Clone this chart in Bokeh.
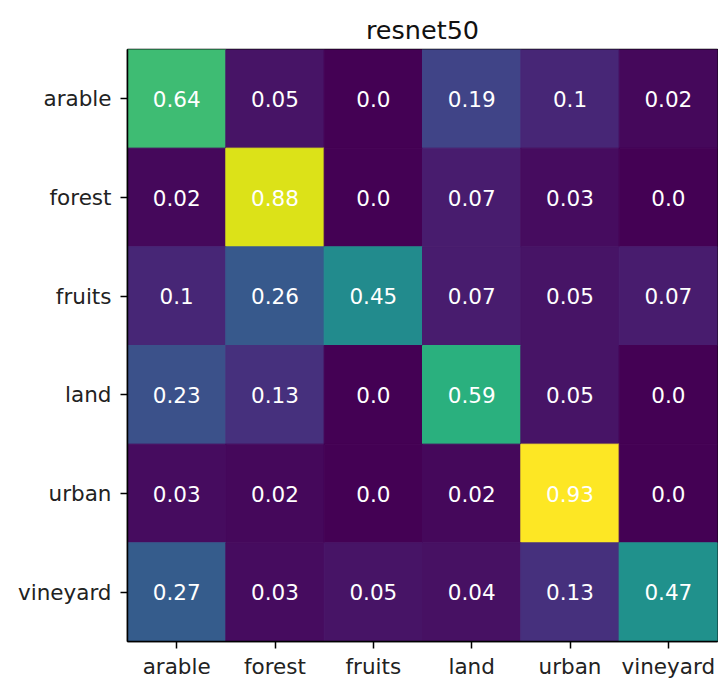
from bokeh.plotting import figure
from bokeh.models import ColumnDataSource, LinearColorMapper, FactorRange
from bokeh.palettes import Viridis256
from bokeh.transform import transform
from bokeh.core.properties import value
from bokeh.embed import file_html
from bokeh.resources import INLINE

# Class names (rows = true label, columns = predicted label)
classes = ["arable", "forest", "fruits", "land", "urban", "vineyard"]

# Normalised confusion-matrix rows
row_arable = [0.64, 0.05, 0.0, 0.19, 0.1, 0.02]
row_forest = [0.02, 0.88, 0.0, 0.07, 0.03, 0.0]
row_fruits = [0.1, 0.26, 0.45, 0.07, 0.05, 0.07]
row_land = [0.23, 0.13, 0.0, 0.59, 0.05, 0.0]
row_urban = [0.03, 0.02, 0.0, 0.02, 0.93, 0.0]
row_vineyard = [0.27, 0.03, 0.05, 0.04, 0.13, 0.47]

rows = [row_arable, row_forest, row_fruits, row_land, row_urban, row_vineyard]

xs, ys, vals, labels = [], [], [], []
for true_cls, row in zip(classes, rows):
    for pred_cls, v in zip(classes, row):
        xs.append(pred_cls)
        ys.append(true_cls)
        vals.append(v)
        labels.append(str(v))

src = ColumnDataSource(dict(x=xs, y=ys, v=vals, label=labels))

all_vals = [v for r in rows for v in r]
mapper = LinearColorMapper(palette=Viridis256, low=min(all_vals), high=max(all_vals))

FONT = "DejaVu Sans"

p = figure(
    width=718, height=681,
    x_range=FactorRange(*classes),
    y_range=FactorRange(*reversed(classes)),
    output_backend="svg", toolbar_location=None,
    min_border_left=127, min_border_right=1,
    min_border_top=49, min_border_bottom=36,
)

# cells, stroked in their own colour so neighbouring cells leave no seams
p.rect(x="x", y="y", width=1, height=1, source=src,
       fill_color=transform("v", mapper),
       line_color=transform("v", mapper), line_width=1)

p.text(x="x", y="y", text="label", source=src,
       text_align="center", text_baseline="middle",
       text_color="white", text_font=value(FONT), text_font_size="21.5px")

p.title.text = "resnet50"
p.title.align = "center"
p.title.text_font = FONT
p.title.text_font_size = "25.5px"
p.title.text_font_style = "normal"
p.title.text_color = "#111111"

p.grid.visible = False
p.outline_line_color = "black"
p.outline_line_width = 1.5
p.outline_line_alpha = 1.0

for ax in (p.xaxis[0], p.yaxis[0]):
    ax.major_label_text_font = FONT
    ax.major_label_text_font_size = "21.5px"
    ax.major_label_text_color = "#222222"
    ax.major_tick_in = 0
    ax.major_tick_out = 7
    ax.major_tick_line_width = 1.5
    ax.major_tick_line_color = "black"
    ax.axis_line_color = "black"
    ax.axis_line_width = 1.5

p.yaxis[0].major_label_standoff = 9
p.xaxis[0].major_label_standoff = 5

p.background_fill_color = "white"
p.border_fill_color = "white"

open("out.html", "w").write(file_html(p, INLINE))
